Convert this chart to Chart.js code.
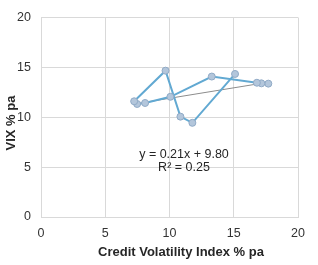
<!DOCTYPE html>
<html><head><meta charset="utf-8">
<script src="https://cdn.jsdelivr.net/npm/chart.js@4/dist/chart.umd.min.js"></script>
<style>html,body{margin:0;padding:0;background:#fff}#wrap{width:318px;height:265px}</style>
</head><body><div id="wrap"><canvas id="c"></canvas></div>
<script>
const creditVol = [17.69, 17.15, 16.8, 13.29, 10.07, 8.1, 7.48, 7.25, 9.69, 10.85, 11.78, 15.1];
const vix       = [13.37, 13.4, 13.46, 14.08, 12.05, 11.43, 11.33, 11.6, 14.67, 10.06, 9.44, 14.34];
const tickValues = [0, 5, 10, 15, 20];
const trendSlope = 0.21, trendIntercept = 9.80;
const trendLabel = 'y = 0.21x + 9.80';
const r2Label = 'R² = 0.25';
const xTitle = 'Credit Volatility Index % pa';
const yTitle = 'VIX % pa';

const pts = creditVol.map((x, i) => ({x, y: vix[i]}));
const xMin = Math.min(...creditVol), xMax = Math.max(...creditVol);
const trend = [{x: xMin, y: trendSlope * xMin + trendIntercept}, {x: xMax, y: trendSlope * xMax + trendIntercept}];

const textPlugin = {
  id: 'texts',
  afterDraw(chart) {
    const ctx = chart.ctx;
    ctx.save();
    ctx.fillStyle = '#262626';
    ctx.font = '12.5px "Liberation Sans", Arial, sans-serif';
    ctx.textAlign = 'center';
    ctx.textBaseline = 'middle';
    ctx.fillText(trendLabel, 184, 155);
    ctx.fillText(r2Label, 184, 168);
    ctx.font = 'bold 13px "Liberation Sans", Arial, sans-serif';
    ctx.fillText(xTitle, 181, 252);
    ctx.translate(11, 123);
    ctx.rotate(-Math.PI / 2);
    ctx.fillText(yTitle, 0, 0);
    ctx.restore();
  }
};

new Chart(document.getElementById('c'), {
  type: 'scatter',
  data: {
    datasets: [
      {
        data: pts,
        showLine: true,
        borderColor: '#62a9d2',
        borderWidth: 2,
        pointRadius: 3.5,
        pointBackgroundColor: '#b3c6db',
        pointBorderColor: '#90aac6',
        pointBorderWidth: 1,
        tension: 0
      },
      {
        data: trend,
        showLine: true,
        borderColor: '#8c8c8c',
        borderWidth: 1,
        pointRadius: 0
      }
    ]
  },
  options: {
    responsive: true,
    maintainAspectRatio: false,
    animation: false,
    layout: {padding: {top: 13, right: 20, left: 0, bottom: 0}},
    plugins: {legend: {display: false}, tooltip: {enabled: false}},
    scales: {
      x: {
        type: 'linear', min: 0, max: 20,
        afterBuildTicks: s => { s.ticks = tickValues.map(v => ({value: v})); },
        afterFit: s => { s.height = 48; },
        grid: {color: '#d9d9d9', drawTicks: false},
        border: {color: '#d9d9d9'},
        ticks: {color: '#333333', padding: 9, font: {size: 12.5, family: '"Liberation Sans", Arial, sans-serif'}}
      },
      y: {
        type: 'linear', min: 0, max: 20,
        afterBuildTicks: s => { s.ticks = tickValues.map(v => ({value: v})); },
        afterFit: s => { s.width = 41; },
        grid: {color: '#d9d9d9', drawTicks: false},
        border: {display: false},
        ticks: {color: '#333333', padding: 10, font: {size: 12.5, family: '"Liberation Sans", Arial, sans-serif'}}
      }
    }
  },
  plugins: [textPlugin]
});
</script></body></html>
